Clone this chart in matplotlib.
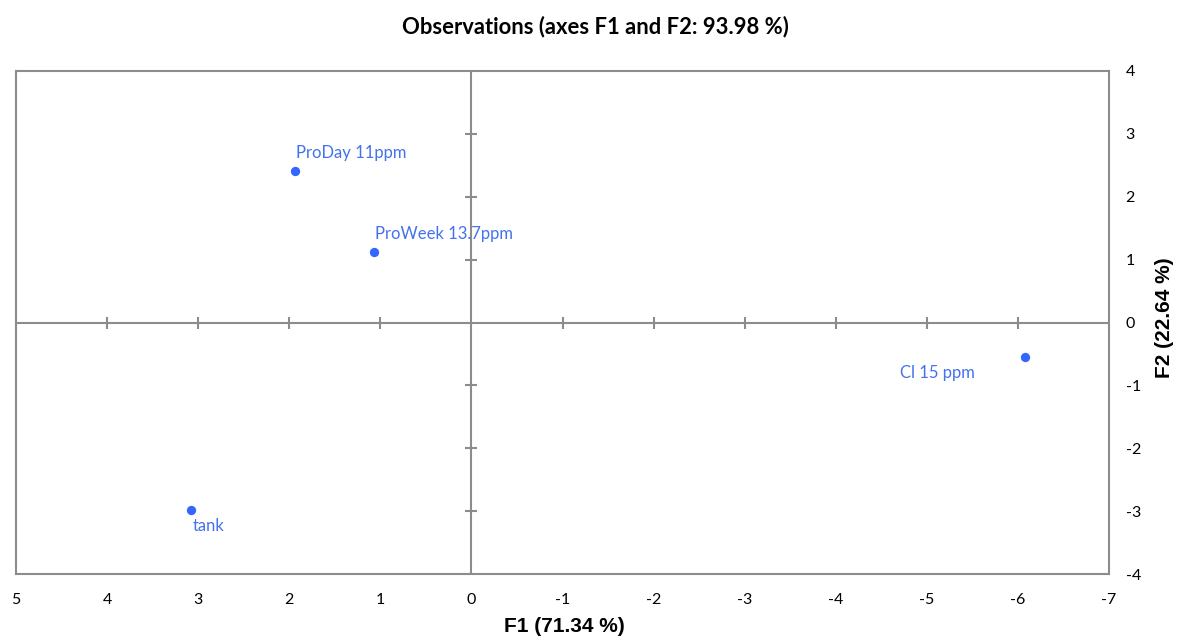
import matplotlib
matplotlib.use("Agg")
import matplotlib.pyplot as plt

plt.rcParams["axes.unicode_minus"] = False

names = ["ProDay 11ppm", "ProWeek 13.7ppm", "Cl 15 ppm", "tank"]
f1 = [1.94, 1.07, -6.08, 3.08]
f2 = [2.41, 1.12, -0.55, -2.98]
xticks = [5, 4, 3, 2, 1, 0, -1, -2, -3, -4, -5, -6, -7]
yticks = [-4, -3, -2, -1, 0, 1, 2, 3, 4]

# label offsets in points (style)
offsets = [(1, 7), (1, 7), (-36, -6), (1, -6)]
aligns = [("left", "bottom"), ("left", "bottom"), ("right", "top"), ("left", "top")]

fig = plt.figure(figsize=(11.77, 6.4), dpi=100)
ax = fig.add_axes([16/1177, 1-574/640, (1109-16)/1177, (574-71)/640])

gray = "#8c8c8c"
ax.set_xlim(5, -7)
ax.set_ylim(-4, 4)
for s in ax.spines.values():
    s.set_color(gray)
    s.set_linewidth(1.5)

ax.set_xticks(xticks)
ax.set_yticks(yticks)
ax.tick_params(axis="both", length=0, labelsize=11.5, labelcolor="black", pad=14)
ax.tick_params(axis="y", pad=12)
ax.yaxis.tick_right()
for lab in ax.get_xticklabels() + ax.get_yticklabels():
    lab.set_fontfamily("Lato")

ax.axhline(0, color=gray, lw=1.5, zorder=1)
ax.axvline(0, color=gray, lw=1.5, zorder=1)
inner_x = [t for t in xticks if t not in (5, 0, -7)]
inner_y = [t for t in yticks if t not in (-4, 0, 4)]
ax.plot(inner_x, [0]*len(inner_x), ls="none", marker="|", ms=9, mew=1.5, color=gray, zorder=1)
ax.plot([0]*len(inner_y), inner_y, ls="none", marker="_", ms=9, mew=1.5, color=gray, zorder=1)

ax.scatter(f1, f2, s=45, color="#3366ff", zorder=3, linewidths=0)
for n, x, y, off, al in zip(names, f1, f2, offsets, aligns):
    ax.annotate(n, (x, y), xytext=off, textcoords="offset points",
                ha=al[0], va=al[1], color="#4472ee", fontsize=12, family="Lato")

fig.text(564/1177, 1-627/640, "F1 (71.34 %)", ha="center", va="center",
         fontsize=15, fontweight="bold", family="Liberation Sans")
fig.text(1165/1177, 1-318/640, "F2 (22.64 %)", ha="center", va="center", rotation=90,
         fontsize=15, fontweight="bold", family="Liberation Sans")

fig.text(595/1177, 1-27/640, "Observations (axes F1 and F2: 93.98 %)", ha="center", va="center",
         fontsize=15.8, fontweight="bold", family="Lato")

fig.savefig("out.png", dpi=100, facecolor="white")
